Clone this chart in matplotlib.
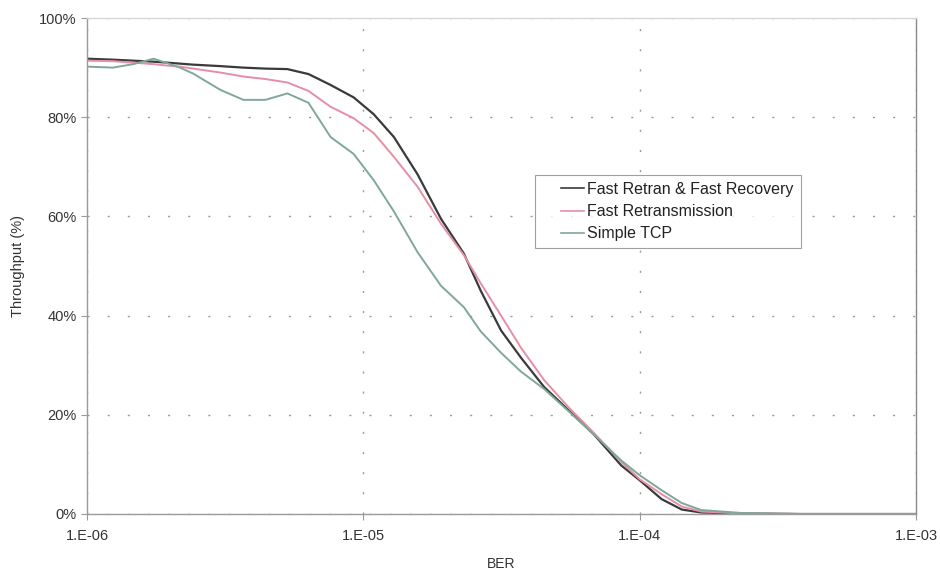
import matplotlib
matplotlib.use("Agg")
import matplotlib.pyplot as plt
from matplotlib.ticker import FixedLocator, FuncFormatter, NullLocator
from matplotlib.legend_handler import HandlerLine2D
from matplotlib.lines import Line2D

plt.rcParams['font.family'] = ['Liberation Sans', 'DejaVu Sans']

# Bit error rate sample points
ber = [1.0e-6, 1.24e-6, 1.47e-6, 1.74e-6, 1.95e-6, 2.17e-6, 2.42e-6, 3.04e-6,
       3.68e-6, 4.42e-6, 5.31e-6, 6.33e-6, 7.61e-6, 9.22e-6, 1.09e-5, 1.29e-5,
       1.57e-5, 1.91e-5, 2.31e-5, 2.66e-5, 3.15e-5, 3.72e-5, 4.51e-5, 5.51e-5,
       6.84e-5, 8.57e-5, 1.0e-4, 1.2e-4, 1.42e-4, 1.67e-4, 2.34e-4, 3.85e-4, 1.0e-3]

# Throughput (%) per TCP variant
fast_recovery = [91.8, 91.6, 91.4, 91.2, 91.0, 90.8, 90.6, 90.3, 90.0, 89.8, 89.7,
                 88.7, 86.5, 84.0, 80.6, 76.0, 68.5, 59.5, 52.5, 45.0, 37.0, 31.5,
                 25.6, 21.0, 16.0, 9.8, 6.8, 3.0, 0.9, 0.3, 0.1, 0.0, 0.0]
fast_retrans = [91.4, 91.3, 91.0, 90.7, 90.4, 90.2, 89.8, 89.0, 88.2, 87.7, 87.0,
                85.3, 82.1, 79.8, 76.8, 72.0, 66.0, 58.5, 52.2, 46.5, 40.0, 33.5,
                27.0, 21.6, 16.3, 10.5, 7.0, 4.0, 1.5, 0.5, 0.1, 0.0, 0.0]
simple_tcp = [90.2, 90.0, 90.7, 91.8, 90.9, 90.0, 88.8, 85.5, 83.5, 83.5, 84.8,
              82.9, 76.0, 72.6, 67.3, 61.0, 52.8, 46.0, 41.7, 36.8, 32.5, 28.7,
              25.2, 20.8, 16.0, 10.8, 7.8, 4.8, 2.2, 0.8, 0.2, 0.0, 0.0]

series_labels = ["Fast Retran & Fast Recovery", "Fast Retransmission", "Simple TCP"]
series_colors = ["#3a3a3a", "#e58fa6", "#7fa89a"]

x_ticks = [1e-6, 1e-5, 1e-4, 1e-3]
x_tick_labels = ["1.E-06", "1.E-05", "1.E-04", "1.E-03"]
y_ticks = [0, 20, 40, 60, 80, 100]


class IndentedLineHandler(HandlerLine2D):
    """Legend line drawn only over the right part of the handle box."""
    def get_xdata(self, legend, xdescent, ydescent, width, height, fontsize):
        xd, xm = super().get_xdata(legend, xdescent, ydescent, width, height, fontsize)
        start = -xdescent + width * 0.45
        return [start, -xdescent + width], [start, -xdescent + width]


fig = plt.figure(figsize=(9.4, 5.72), dpi=100)
ax = fig.add_axes([0.0926, 0.1014, 0.8819, 0.8671])

lines = []
for vals, lab, col, lw in zip([fast_recovery, fast_retrans, simple_tcp],
                              series_labels, series_colors, [1.6, 1.4, 1.4]):
    ln, = ax.plot(ber, vals, color=col, lw=lw, label=lab, solid_joinstyle='round')
    lines.append(ln)

ax.set_xscale('log')
ax.set_xlim(1e-6, 1e-3)
ax.set_ylim(0, 100)

ax.xaxis.set_major_locator(FixedLocator(x_ticks))
ax.xaxis.set_minor_locator(NullLocator())
ax.set_xticklabels(x_tick_labels)
ax.yaxis.set_major_locator(FixedLocator(y_ticks))
ax.yaxis.set_major_formatter(FuncFormatter(lambda v, p: f"{int(v)}%"))

ax.grid(True, which='major', color='#9a9a9a', linestyle=(0, (1.5, 13)), lw=1.0)
ax.set_axisbelow(True)

for side in ['left', 'bottom']:
    ax.spines[side].set_color('#9a9a9a')
ax.spines['top'].set_color('#d8d8d8')
ax.spines['right'].set_color('#8a8a8a')
for s in ax.spines.values():
    s.set_linewidth(1.0)

ax.tick_params(axis='both', colors='#9a9a9a', labelcolor='#333333',
               labelsize=10.5, length=4, width=0.8)
ax.tick_params(axis='x', pad=7)

ax.set_xlabel("BER", fontsize=10, color='#333333', labelpad=10)
ax.set_ylabel("Throughput (%)", fontsize=10.5, color='#333333', labelpad=10)

leg = ax.legend(handles=lines, loc='upper left', bbox_to_anchor=(0.5405, 0.684),
                fontsize=11.5, frameon=True, fancybox=False, edgecolor='#888888',
                handlelength=2.6, handletextpad=0.2, borderpad=0.45,
                labelspacing=0.45, borderaxespad=0,
                handler_map={Line2D: IndentedLineHandler()})
leg.get_frame().set_linewidth(0.8)
for t in leg.get_texts():
    t.set_color('#222222')
for h in leg.legend_handles:
    h.set_linewidth(1.2)

fig.savefig("out.png", dpi=100, facecolor='white')
